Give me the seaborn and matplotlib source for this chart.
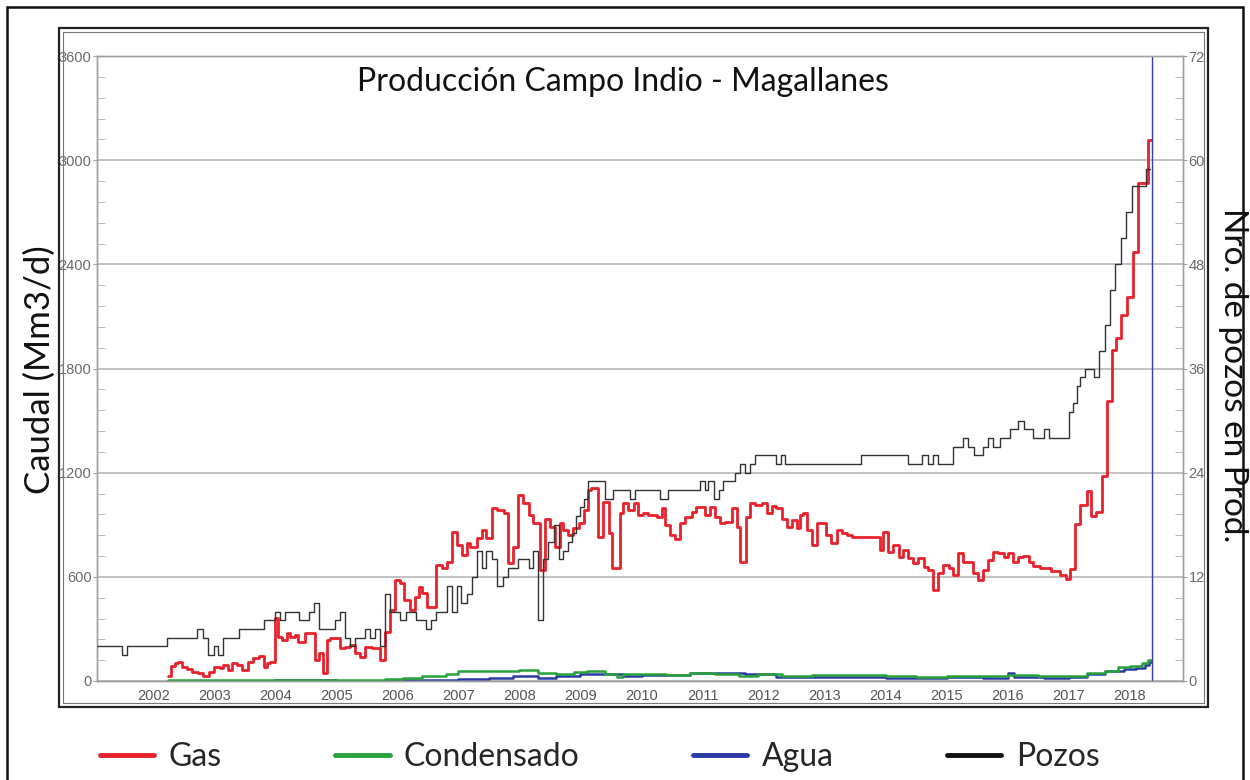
import matplotlib
matplotlib.use("Agg")
import matplotlib.pyplot as plt
import matplotlib.patches as patches
from matplotlib.lines import Line2D
from matplotlib.ticker import MultipleLocator
import seaborn as sns

# Gas (Mm3/d), step series: start year of each step and its value
gas_years = [2002.24, 2002.29, 2002.36, 2002.40, 2002.48, 2002.55, 2002.63, 2002.74, 2002.82, 2002.91,
             2002.99, 2003.10, 2003.15, 2003.23, 2003.29, 2003.37, 2003.45, 2003.56, 2003.64, 2003.73,
             2003.81, 2003.86, 2003.92, 2003.99, 2004.05, 2004.11, 2004.19, 2004.24, 2004.33, 2004.38,
             2004.48, 2004.57, 2004.65, 2004.72, 2004.79, 2004.85, 2004.90, 2005.06, 2005.14, 2005.23,
             2005.31, 2005.39, 2005.47, 2005.58, 2005.72, 2005.80, 2005.88, 2005.96, 2006.05, 2006.11,
             2006.21, 2006.29, 2006.35, 2006.40, 2006.48, 2006.63, 2006.73, 2006.81, 2006.89, 2006.97,
             2007.06, 2007.14, 2007.19, 2007.30, 2007.38, 2007.46, 2007.55, 2007.63, 2007.74, 2007.82,
             2007.90, 2007.98, 2008.06, 2008.15, 2008.23, 2008.34, 2008.42, 2008.50, 2008.58, 2008.67,
             2008.72, 2008.80, 2008.88, 2008.97, 2009.05, 2009.13, 2009.18, 2009.29, 2009.37, 2009.46,
             2009.51, 2009.65, 2009.70, 2009.78, 2009.87, 2009.95, 2010.03, 2010.11, 2010.25, 2010.33,
             2010.39, 2010.47, 2010.55, 2010.63, 2010.71, 2010.82, 2010.90, 2011.04, 2011.12, 2011.20,
             2011.29, 2011.37, 2011.48, 2011.56, 2011.62, 2011.71, 2011.78, 2011.86, 2011.97, 2012.05,
             2012.13, 2012.21, 2012.30, 2012.38, 2012.46, 2012.54, 2012.60, 2012.65, 2012.71, 2012.79,
             2012.87, 2013.03, 2013.11, 2013.20, 2013.28, 2013.36, 2013.44, 2013.91, 2013.96, 2014.04,
             2014.12, 2014.21, 2014.29, 2014.37, 2014.45, 2014.53, 2014.62, 2014.70, 2014.78, 2014.86,
             2014.94, 2015.03, 2015.11, 2015.19, 2015.27, 2015.43, 2015.52, 2015.60, 2015.68, 2015.76,
             2015.84, 2015.93, 2016.01, 2016.09, 2016.17, 2016.25, 2016.34, 2016.42, 2016.53, 2016.70,
             2016.85, 2016.95, 2017.02, 2017.10, 2017.18, 2017.29, 2017.37, 2017.45, 2017.54, 2017.62,
             2017.70, 2017.78, 2017.86, 2017.96, 2018.05, 2018.13, 2018.30]
gas_values = [29, 86, 102, 111, 80, 70, 54, 44, 29, 54,
              79, 73, 92, 63, 105, 92, 63, 111, 130, 144,
              83, 105, 111, 361, 255, 236, 274, 255, 265, 226,
              278, 274, 121, 159, 44, 236, 246, 188, 198, 207,
              159, 140, 198, 188, 121, 284, 409, 581, 562, 466,
              409, 486, 543, 505, 428, 668, 649, 687, 860, 783,
              725, 793, 773, 821, 869, 821, 994, 984, 965, 677,
              773, 1071, 1023, 956, 908, 639, 936, 888, 773, 908,
              869, 840, 879, 908, 984, 1100, 1109, 831, 1032, 850,
              649, 965, 1023, 984, 1023, 956, 965, 956, 946, 994,
              898, 840, 816, 908, 946, 975, 1000, 956, 1004, 946,
              908, 917, 994, 888, 687, 946, 1023, 1013, 1023, 965,
              1007, 994, 936, 888, 927, 879, 956, 965, 869, 783,
              908, 840, 793, 869, 850, 840, 831, 754, 860, 745,
              783, 716, 754, 706, 681, 706, 654, 639, 524, 620,
              668, 649, 610, 735, 687, 620, 581, 639, 697, 745,
              735, 716, 735, 687, 716, 720, 687, 660, 650, 635,
              612, 588, 647, 906, 1012, 1094, 953, 976, 1180, 1615,
              1906, 1976, 2106, 2212, 2471, 2871, 3118]
gas_end = 2018.35

# Condensado (Mm3/d)
cond_years = [2002.24, 2003.0, 2004.0, 2005.0, 2005.8, 2006.1, 2006.4, 2006.8, 2007.0, 2007.4,
              2007.8, 2008.0, 2008.3, 2008.6, 2008.9, 2009.1, 2009.4, 2009.6, 2009.7, 2010.0,
              2010.4, 2010.8, 2011.2, 2011.6, 2011.9, 2012.3, 2012.8, 2013.5, 2014.0, 2014.5,
              2015.0, 2015.5, 2016.0, 2016.5, 2017.0, 2017.3, 2017.6, 2017.8, 2018.0, 2018.2,
              2018.3]
cond_values = [5, 4, 8, 6, 12, 20, 28, 40, 55, 60,
               55, 62, 45, 42, 50, 55, 40, 25, 38, 42,
               35, 45, 40, 30, 38, 30, 32, 33, 28, 25,
               28, 30, 32, 30, 28, 45, 60, 80, 88, 105,
               120]
cond_end = 2018.35

# Agua (Mm3/d)
water_years = [2002.24, 2004.0, 2005.0, 2005.9, 2006.5, 2007.0, 2007.5, 2007.9, 2008.3, 2008.6,
               2009.0, 2009.4, 2009.7, 2010.0, 2010.8, 2011.3, 2011.7, 2012.2, 2012.8, 2013.5,
               2014.0, 2014.5, 2015.0, 2015.6, 2016.0, 2016.1, 2016.6, 2017.0, 2017.3, 2017.6,
               2017.9, 2018.1, 2018.25, 2018.32]
water_values = [0, 3, 2, 5, 8, 12, 20, 28, 15, 30,
                42, 38, 30, 35, 45, 48, 38, 22, 25, 22,
                20, 18, 22, 20, 45, 22, 18, 22, 42, 55,
                70, 75, 95, 108]
water_end = 2018.35

# Pozos en produccion (right axis)
wells_years = [2001.08, 2001.49, 2001.57, 2002.22, 2002.72, 2002.81, 2002.90, 2002.99, 2003.07, 2003.15,
               2003.40, 2003.81, 2003.99, 2004.07, 2004.16, 2004.39, 2004.56, 2004.64, 2004.72, 2004.98,
               2005.06, 2005.14, 2005.23, 2005.31, 2005.47, 2005.55, 2005.64, 2005.72, 2005.80, 2005.88,
               2006.05, 2006.14, 2006.31, 2006.47, 2006.55, 2006.64, 2006.81, 2006.89, 2006.97, 2007.05,
               2007.14, 2007.22, 2007.30, 2007.38, 2007.46, 2007.55, 2007.63, 2007.73, 2007.82, 2007.98,
               2008.15, 2008.23, 2008.31, 2008.39, 2008.47, 2008.56, 2008.64, 2008.72, 2008.80, 2008.86,
               2008.93, 2009.00, 2009.06, 2009.13, 2009.40, 2009.54, 2009.81, 2009.89, 2010.30, 2010.44,
               2010.96, 2011.04, 2011.09, 2011.18, 2011.27, 2011.34, 2011.53, 2011.61, 2011.70, 2011.78,
               2011.86, 2012.21, 2012.29, 2012.35, 2013.60, 2014.37, 2014.59, 2014.70, 2014.78, 2014.86,
               2015.11, 2015.27, 2015.35, 2015.44, 2015.60, 2015.68, 2015.76, 2015.87, 2016.04, 2016.17,
               2016.26, 2016.42, 2016.59, 2016.67, 2017.00, 2017.07, 2017.14, 2017.19, 2017.27, 2017.41,
               2017.49, 2017.59, 2017.67, 2017.75, 2017.85, 2017.93, 2018.03, 2018.26]
wells_values = [4, 3, 4, 5, 6, 5, 3, 4, 3, 5,
                6, 7, 8, 7, 8, 7, 8, 9, 6, 7,
                8, 5, 4, 5, 6, 5, 6, 4, 10, 8,
                7, 8, 7, 6, 7, 8, 11, 8, 11, 9,
                10, 12, 15, 13, 15, 14, 11, 12, 13, 14,
                13, 15, 7, 14, 16, 18, 14, 15, 16, 17,
                19, 20, 21, 23, 21, 22, 21, 22, 21, 22,
                23, 22, 23, 21, 22, 23, 24, 25, 24, 25,
                26, 25, 26, 25, 26, 25, 26, 25, 26, 25,
                27, 28, 27, 26, 27, 28, 27, 28, 29, 30,
                29, 28, 29, 28, 31, 32, 34, 35, 36, 35,
                38, 41, 45, 48, 51, 54, 57, 59]
wells_end = 2018.33

year_ticks = list(range(2002, 2019))
rate_ticks = [0, 600, 1200, 1800, 2400, 3000, 3600]
well_ticks = [0, 12, 24, 36, 48, 60, 72]
cutoff_year = 2018.36

labels = ["Gas", "Condensado", "Agua", "Pozos"]
colors = ["#e8212b", "#27a23a", "#2a3aa5", "#111111"]

sns.set_style("white")
plt.rcParams["font.family"] = ["Lato", "DejaVu Sans"]
tick_font = ["Liberation Sans Narrow", "Liberation Sans", "DejaVu Sans"]

W, H = 1250, 780
fig = plt.figure(figsize=(12.5, 7.8), dpi=100)
ax = fig.add_axes([97 / W, 1 - 681 / H, (1183 - 97) / W, (681 - 56) / H])

sns.lineplot(x=gas_years + [gas_end], y=gas_values + [gas_values[-1]], ax=ax,
             color=colors[0], linewidth=2.0, drawstyle="steps-post", estimator=None, zorder=4)
sns.lineplot(x=cond_years + [cond_end], y=cond_values + [cond_values[-1]], ax=ax,
             color=colors[1], linewidth=1.8, drawstyle="steps-post", estimator=None, zorder=3)
sns.lineplot(x=water_years + [water_end], y=water_values + [water_values[-1]], ax=ax,
             color=colors[2], linewidth=1.8, drawstyle="steps-post", estimator=None, zorder=2)

ax2 = ax.twinx()
sns.lineplot(x=wells_years + [wells_end], y=wells_values + [wells_values[-1]], ax=ax2,
             color="#333333", linewidth=1.0, drawstyle="steps-post", estimator=None, zorder=3)

ax.axvline(cutoff_year, color="#3a3ab0", linewidth=1.0, zorder=5)

ax.set_xlim(2001.08, 2018.87)
ax.set_ylim(0, 3600)
ax2.set_ylim(0, 72)
ax.set_xticks(year_ticks)
ax.set_yticks(rate_ticks)
ax2.set_yticks(well_ticks)
ax.yaxis.set_minor_locator(MultipleLocator(120))
ax2.yaxis.set_minor_locator(MultipleLocator(2.4))
ax.set_xlabel("")
ax.set_ylabel("")
ax2.set_ylabel("")

ax.yaxis.grid(True, color="#b8b8b8", linewidth=1.2)
ax.set_axisbelow(True)

for a in (ax, ax2):
    for s in a.spines.values():
        s.set_color("#a0a0a0")
        s.set_linewidth(1.0)
ax.tick_params(axis="y", which="major", direction="out", length=3, color="#a0a0a0",
               labelsize=10.5, labelcolor="#6a6a6a", pad=1)
ax.tick_params(axis="y", which="minor", direction="in", length=6, color="#b0b0b0")
ax2.tick_params(axis="y", which="major", direction="out", length=3, color="#a0a0a0",
                labelsize=10.5, labelcolor="#6a6a6a", pad=1)
ax2.tick_params(axis="y", which="minor", direction="in", length=6, color="#b0b0b0")
ax.tick_params(axis="x", which="major", direction="in", length=5, color="#b0b0b0",
               labelsize=10.5, labelcolor="#555555", pad=6)
for lab in ax.get_xticklabels() + ax.get_yticklabels() + ax2.get_yticklabels():
    lab.set_family(tick_font)

fig.text(623 / W, 1 - 82 / H, "Producción Campo Indio - Magallanes", ha="center", va="center",
         fontsize=23, color="#111111")
fig.text(40 / W, 1 - 370 / H, "Caudal (Mm3/d)", rotation=90, ha="center", va="center",
         fontsize=25, color="#111111")
fig.text(1233 / W, 1 - 375 / H, "Nro. de pozos en Prod.", rotation=270, ha="center", va="center",
         fontsize=24, color="#111111")

handles = [Line2D([0], [0], color=c, linewidth=3.5) for c in colors]
fig.legend(handles, labels, loc="center left", bbox_to_anchor=(100 / W, 1 - 757 / H), ncol=4,
           frameon=False, fontsize=23, handlelength=1.7, handletextpad=0.45,
           columnspacing=3.55, borderaxespad=0, borderpad=0)

# page and chart frames
fig.patches.append(patches.Rectangle((7 / W, -0.05), (1243 - 7) / W, 1.05 - 7 / H,
                                     transform=fig.transFigure, fill=False,
                                     edgecolor="#111111", linewidth=1.8))
fig.patches.append(patches.Rectangle((59 / W, 1 - 707 / H), (1208 - 59) / W, (707 - 28) / H,
                                     transform=fig.transFigure, fill=False,
                                     edgecolor="#222222", linewidth=1.6))
fig.patches.append(patches.Rectangle((63 / W, 1 - 703 / H), (1204 - 63) / W, (703 - 32) / H,
                                     transform=fig.transFigure, fill=False,
                                     edgecolor="#777777", linewidth=0.8))

fig.savefig("out.png", dpi=100, facecolor="white")
